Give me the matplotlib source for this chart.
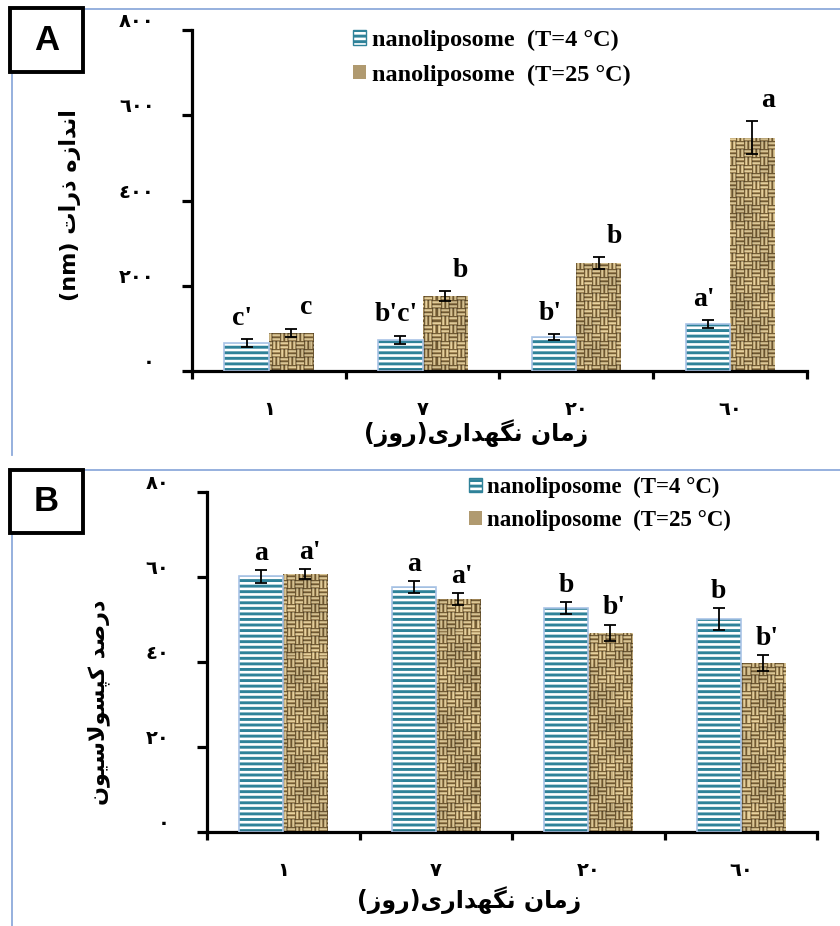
import numpy as np
import matplotlib
matplotlib.use("Agg")
import matplotlib.pyplot as plt
from matplotlib.patches import Rectangle, Patch
from matplotlib.lines import Line2D

# ---------------- data ----------------
days = ["١", "٧", "٢٠", "٦٠"]
series_labels = ["nanoliposome  (T=4 °C)", "nanoliposome  (T=25 °C)"]

size_4c = [65, 73, 80, 110]
size_4c_err = [9, 10, 7, 10]
size_25c = [89, 176, 253, 547]
size_25c_err = [10, 12, 14, 39]
size_4c_letters = ["c'", "b'c'", "b'", "a'"]
size_25c_letters = ["c", "b", "b", "a"]
size_ticks = [0, 200, 400, 600, 800]
size_tick_labels = ["٠", "٢٠٠", "٤٠٠", "٦٠٠", "٨٠٠"]

enc_4c = [60.2, 57.6, 52.7, 50.1]
enc_4c_err = [1.5, 1.4, 1.45, 2.5]
enc_25c = [60.7, 54.8, 46.9, 39.7]
enc_25c_err = [1.2, 1.5, 1.9, 1.9]
enc_4c_letters = ["a", "a", "b", "b"]
enc_25c_letters = ["a'", "a'", "b'", "b'"]
enc_ticks = [0, 20, 40, 60, 80]
enc_tick_labels = ["٠", "٢٠", "٤٠", "٦٠", "٨٠"]

# ---------------- Persian text shaping ----------------
DUAL = set("بپتثجچحخسشصضطظعغفقکگلمنهی")
FORMS = {  # isolated, final, initial, medial
    "ا": ("\uFE8D", "\uFE8E", None, None),
    "ت": ("\uFE95", "\uFE96", "\uFE97", "\uFE98"),
    "د": ("\uFEA9", "\uFEAA", None, None),
    "ذ": ("\uFEAB", "\uFEAC", None, None),
    "ر": ("\uFEAD", "\uFEAE", None, None),
    "ز": ("\uFEAF", "\uFEB0", None, None),
    "س": ("\uFEB1", "\uFEB2", "\uFEB3", "\uFEB4"),
    "ص": ("\uFEB9", "\uFEBA", "\uFEBB", "\uFEBC"),
    "ل": ("\uFEDD", "\uFEDE", "\uFEDF", "\uFEE0"),
    "م": ("\uFEE1", "\uFEE2", "\uFEE3", "\uFEE4"),
    "ن": ("\uFEE5", "\uFEE6", "\uFEE7", "\uFEE8"),
    "ه": ("\uFEE9", "\uFEEA", "\uFEEB", "\uFEEC"),
    "و": ("\uFEED", "\uFEEE", None, None),
    "ی": ("\uFBFC", "\uFBFD", "\uFBFE", "\uFBFF"),
    "ک": ("\uFB8E", "\uFB8F", "\uFB90", "\uFB91"),
    "گ": ("\uFB92", "\uFB93", "\uFB94", "\uFB95"),
    "پ": ("\uFB56", "\uFB57", "\uFB58", "\uFB59"),
}


def rtl(text):
    """Contextual letter forms + right-to-left visual order."""
    out = []
    i, n = 0, len(text)
    while i < n:
        c = text[i]
        prev = text[i - 1] if i > 0 else ""
        joined_prev = prev in DUAL and c in FORMS
        if c == "ل" and i + 1 < n and text[i + 1] == "ا":
            out.append("\uFEFC" if joined_prev else "\uFEFB")
            i += 2
            continue
        if c in FORMS:
            nxt = text[i + 1] if i + 1 < n else ""
            joined_next = c in DUAL and nxt in FORMS
            iso, fin, ini, med = FORMS[c]
            if joined_prev and joined_next:
                out.append(med)
            elif joined_prev:
                out.append(fin)
            elif joined_next:
                out.append(ini)
            else:
                out.append(iso)
        else:
            out.append(c)
        i += 1
    mirror = {"(": ")", ")": "("}
    return "".join(mirror.get(c, c) for c in reversed(out))


xlabel_text = rtl("زمان نگهداری(روز)")
ylabel_a_text = "(nm) " + rtl("اندازه ذرات")
ylabel_b_text = rtl("درصد کپسولاسیون")

# ---------------- style ----------------
W, H = 840, 926
plt.rcParams["hatch.linewidth"] = 2.1
TEAL = "#2f8299"
EDGE_BLUE = "#a9c3e6"
FRAME = "#8eaadb"
SERIF = ["Liberation Serif", "DejaVu Serif"]
ARABIC = ["DejaVu Sans"]

fig = plt.figure(figsize=(W / 100, H / 100), dpi=100)
fig.patch.set_facecolor("white")


def fx(x):
    return x / W


def fy(y):
    return 1 - y / H


def weave_texture(h, w, b=8):
    """Basket-weave burlap: blocks of two strands, alternating direction."""
    yy, xx = np.mgrid[0:h, 0:w]
    horiz = ((yy // b) + (xx // b)) % 2 == 0
    across = np.where(horiz, yy % b, xx % b)   # position across the strand
    along = np.where(horiz, xx % b, yy % b)    # position along the strand
    palette = np.array([
        [112, 90, 52],     # shadow edge
        [196, 174, 126],   # highlight
        [218, 198, 150],   # highlight
        [156, 130, 84],    # mid tone
    ]) / 255
    img = palette[across % 4]
    ends = (along == 0)[..., None]
    img = np.where(ends, img * 0.75, img)
    shade = 1 + 0.07 * np.sin(xx / 9.1 + yy / 13.7) * np.cos(yy / 7.3)
    return np.clip(img * shade[..., None], 0, 1)


def panel(rect, v4, e4, v25, e25, l4, l25, ticks, tick_labels, ymax,
          lab_gap, dx4, dx25, legend_xy, legend_fs, legend_sp):
    ax = fig.add_axes(rect)
    x = np.arange(len(days))
    w = 0.29
    ax.set_xlim(-0.5, 3.5)
    ax.set_ylim(0, ymax)

    # 4 °C : white with teal horizontal stripes, light blue outline
    ax.bar(x - w / 2, v4, w, color="white", edgecolor=TEAL, hatch="---",
           linewidth=0, zorder=2)
    ax.bar(x - w / 2, v4, w, fill=False, edgecolor=EDGE_BLUE, linewidth=1.2,
           zorder=3)

    # 25 °C : woven burlap texture clipped to each bar
    bars25 = ax.bar(x + w / 2, v25, w, color="#a48c60", linewidth=0, zorder=2)
    fig.canvas.draw()
    bb = ax.get_window_extent()
    tex = weave_texture(int(bb.height) + 1, int(bb.width) + 1)
    for r in bars25:
        im = ax.imshow(tex, extent=(-0.5, 3.5, 0, ymax), origin="upper",
                       aspect="auto", interpolation="nearest", zorder=2.5)
        im.set_clip_path(r)
    ax.set_xlim(-0.5, 3.5)
    ax.set_ylim(0, ymax)

    ax.errorbar(x - w / 2, v4, yerr=e4, fmt="none", ecolor="black",
                elinewidth=1.3, capsize=4, capthick=1.3, zorder=4)
    ax.errorbar(x + w / 2, v25, yerr=e25, fmt="none", ecolor="black",
                elinewidth=1.3, capsize=4, capthick=1.3, zorder=4)

    for xi, v, e, t in zip(x - w / 2, v4, e4, l4):
        ax.annotate(t, (xi, v + e), xytext=(dx4, lab_gap),
                    textcoords="offset points", ha="center", va="center",
                    fontsize=20, fontweight="bold", family=SERIF)
    for xi, v, e, t in zip(x + w / 2, v25, e25, l25):
        ax.annotate(t, (xi, v + e), xytext=(dx25, lab_gap),
                    textcoords="offset points", ha="center", va="center",
                    fontsize=20, fontweight="bold", family=SERIF)

    # axes frame
    for s in ("top", "right"):
        ax.spines[s].set_visible(False)
    for s in ("left", "bottom"):
        ax.spines[s].set_linewidth(2.3)
    ax.set_xticks([-0.5, 0.5, 1.5, 2.5, 3.5])
    ax.set_xticklabels([])
    ax.set_xticks(x, minor=True)
    ax.set_xticklabels(days, minor=True, fontsize=14, fontweight="bold",
                       family=ARABIC)
    ax.tick_params(axis="x", which="major", direction="out", length=6,
                   width=2.3)
    ax.tick_params(axis="x", which="minor", length=0, pad=21)
    ax.set_yticks(ticks)
    ax.set_yticklabels([])
    ax.tick_params(axis="y", direction="out", length=7, width=2.3)
    for t, s in zip(ticks, tick_labels):
        ax.annotate(s, (0, t), xycoords=("axes fraction", "data"),
                    xytext=(-27, 6), textcoords="offset points", ha="right",
                    va="center", fontsize=14, fontweight="bold",
                    family=ARABIC, annotation_clip=False)

    handles = [
        Patch(facecolor="white", edgecolor=TEAL, hatch="---", linewidth=1.0),
        Patch(facecolor="#b09a70", edgecolor="none"),
    ]
    fig.legend(handles, series_labels, loc="upper left",
               bbox_to_anchor=legend_xy, frameon=False,
               prop={"family": SERIF, "weight": "bold", "size": legend_fs},
               handlelength=0.55, handleheight=0.55, handletextpad=0.25,
               labelspacing=legend_sp, borderpad=0, borderaxespad=0)
    return ax


# Panel A: particle size
axA = panel([fx(192), fy(371), (807 - 192) / W, (371 - 30) / H],
            size_4c, size_4c_err, size_25c, size_25c_err,
            size_4c_letters, size_25c_letters, size_ticks, size_tick_labels,
            800, 15, -3, 11, (fx(353), fy(30)), 17.5, 0.55)

# Panel B: encapsulation efficiency
axB = panel([fx(207), fy(832), (817 - 207) / W, (832 - 492) / H],
            enc_4c, enc_4c_err, enc_25c, enc_25c_err,
            enc_4c_letters, enc_25c_letters, enc_ticks, enc_tick_labels,
            80, 12, 0, 3, (fx(469), fy(477)), 16.5, 0.5)

# axis titles
fig.text(fx(476), fy(433), xlabel_text, ha="center", va="center",
         fontsize=17, fontweight="bold", family=ARABIC)
fig.text(fx(469), fy(900), xlabel_text, ha="center", va="center",
         fontsize=17, fontweight="bold", family=ARABIC)
fig.text(fx(70), fy(205), ylabel_a_text, ha="center", va="center",
         rotation=90, fontsize=16, fontweight="bold", family=ARABIC)
fig.text(fx(99), fy(702), ylabel_b_text, ha="center", va="center",
         rotation=90, fontsize=16, fontweight="bold", family=ARABIC)

# light blue panel frames
for y_top, y_bot in ((9, 455), (470, 926)):
    fig.add_artist(Line2D([fx(12), 1], [fy(y_top), fy(y_top)],
                          color=FRAME, linewidth=1.3))
    fig.add_artist(Line2D([fx(12), fx(12)], [fy(y_top), fy(y_bot)],
                          color=FRAME, linewidth=1.3))

# panel letters
for letter, y0, y1 in (("A", 8, 72), ("B", 470, 533)):
    fig.add_artist(Rectangle((fx(10), fy(y1)), (83 - 10) / W, (y1 - y0) / H,
                             transform=fig.transFigure, facecolor="white",
                             edgecolor="black", linewidth=2.8, zorder=5))
    fig.text(fx(46.5), fy((y0 + y1) / 2), letter, ha="center", va="center",
             fontsize=25, fontweight="bold", family=["Liberation Sans"],
             zorder=6)

fig.savefig("out.png", dpi=100, facecolor="white")
